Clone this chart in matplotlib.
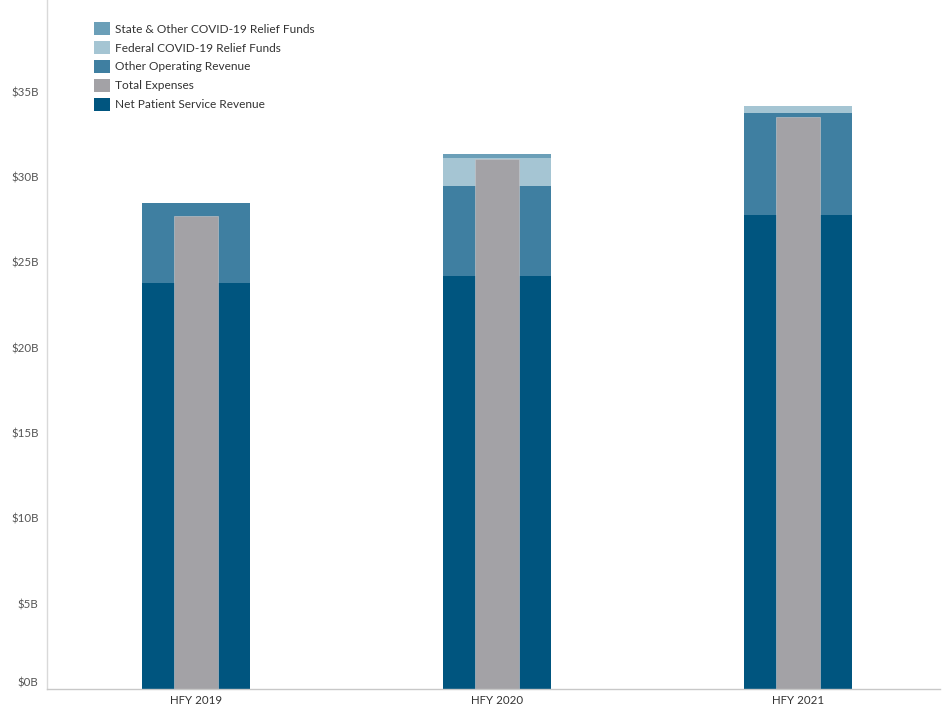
import matplotlib
matplotlib.use("Agg")
import matplotlib.pyplot as plt
from matplotlib.patches import Patch
import numpy as np

categories = ["HFY 2019", "HFY 2020", "HFY 2021"]
net_patient = [23.78, 24.2, 27.77]
other_operating = [4.67, 5.29, 5.95]
federal_relief = [0.0, 1.64, 0.45]
state_relief = [0.0, 0.22, 0.0]
total_expenses = [27.73, 31.03, 33.53]
ytick_vals = [0, 5, 10, 15, 20, 25, 30, 35]
ytick_labels = ["$0B", "$5B", "$10B", "$15B", "$20B", "$25B", "$30B", "$35B"]

c_npsr = "#00557f"
c_other = "#3f7fa1"
c_fed = "#a5c5d3"
c_state = "#6b9fb8"
c_exp = "#a3a2a6"

plt.rcParams['font.family'] = ['Lato', 'DejaVu Sans']

fig = plt.figure(figsize=(9.48, 7.07), dpi=100)
ax = fig.add_axes([47/948, 18/707, (940-47)/948, 689/707])

x = np.arange(len(categories))
w = 0.359
wg = 0.146
npsr = np.array(net_patient)
oth = np.array(other_operating)
fed = np.array(federal_relief)
st = np.array(state_relief)

ax.bar(x, npsr, w, color=c_npsr, linewidth=0)
ax.bar(x, oth, w, bottom=npsr, color=c_other, linewidth=0)
ax.bar(x, fed, w, bottom=npsr + oth, color=c_fed, linewidth=0)
ax.bar(x, st, w, bottom=npsr + oth + fed, color=c_state, linewidth=0)
ax.bar(x, total_expenses, wg, color=c_exp, edgecolor="#c8c8cc", linewidth=0.4)

ax.set_xlim(-149/301, 2 + 142/301)
ax.set_ylim(0, 689/17.07)
ax.set_xticks(x)
ax.set_xticklabels(categories, fontsize=8.3, color="#333333")
ax.set_yticks(ytick_vals)
ax.set_yticklabels(ytick_labels, fontsize=8.3, color="#555555")
ax.tick_params(axis='both', length=0)
ax.tick_params(axis='x', pad=4)
ax.tick_params(axis='y', pad=6)
ax.yaxis.get_major_ticks()[0].label1.set_verticalalignment('bottom')

for s in ["top", "right"]:
    ax.spines[s].set_visible(False)
ax.spines["left"].set_color("#d9d9d9")
ax.spines["bottom"].set_color("#c8c8c8")
ax.spines["left"].set_linewidth(1.0)
ax.spines["bottom"].set_linewidth(1.0)

handles = [Patch(facecolor=c_state), Patch(facecolor=c_fed), Patch(facecolor=c_other),
           Patch(facecolor=c_exp), Patch(facecolor=c_npsr)]
labels = ["State & Other COVID-19 Relief Funds", "Federal COVID-19 Relief Funds",
          "Other Operating Revenue", "Total Expenses", "Net Patient Service Revenue"]
leg = fig.legend(handles, labels, loc="upper left", bbox_to_anchor=(94/948, 1 - 22/707),
                 frameon=False, fontsize=8.6, handlelength=1.3, handleheight=1.3,
                 labelspacing=0.5, handletextpad=0.45, borderaxespad=0, borderpad=0)
for t in leg.get_texts():
    t.set_color("#333333")

fig.savefig("out.png", dpi=100)
